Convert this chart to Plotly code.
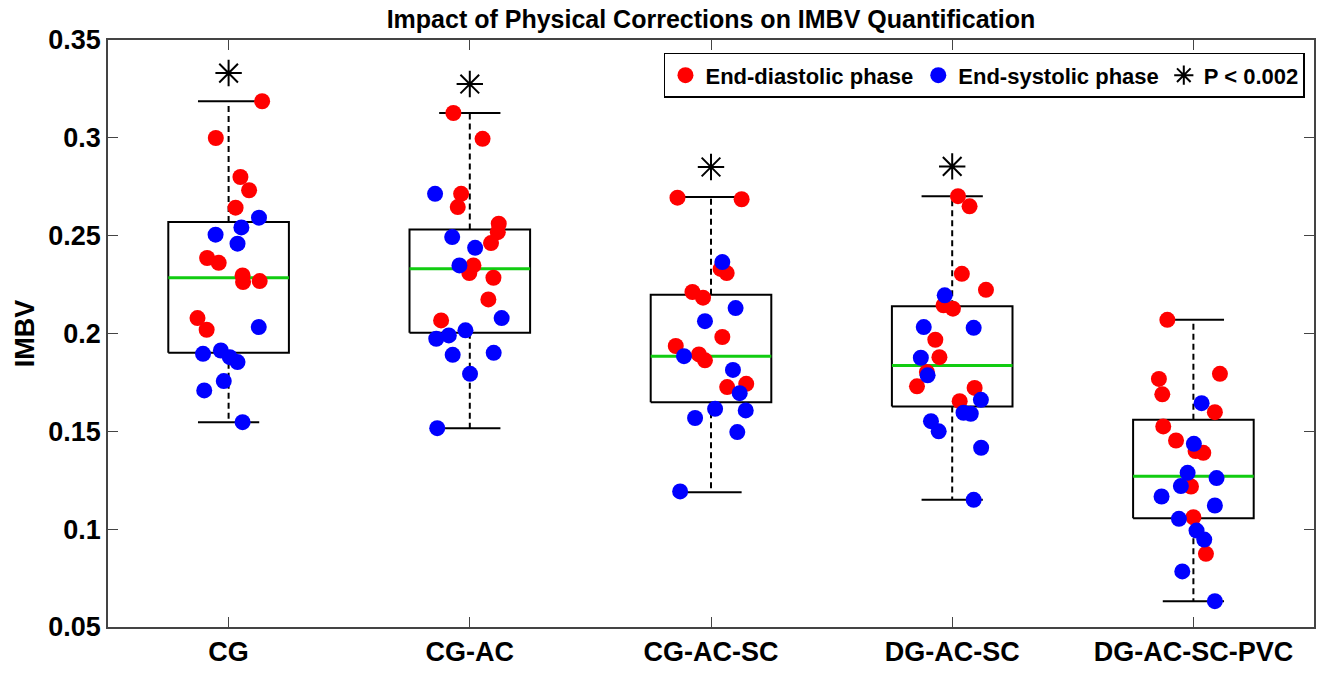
import plotly.graph_objects as go

categories = ["CG", "CG-AC", "CG-AC-SC", "DG-AC-SC", "DG-AC-SC-PVC"]

# End-diastolic (red) values per group and jitter offsets (category units)
ed_values = [
    [0.3187, 0.2999, 0.2800, 0.2732, 0.2643, 0.2386, 0.2361, 0.2297, 0.2263, 0.2268, 0.2079, 0.2019],
    [0.3127, 0.2995, 0.2714, 0.2646, 0.2561, 0.2518, 0.2462, 0.2348, 0.2309, 0.2285, 0.2174, 0.2067],
    [0.2694, 0.2686, 0.2330, 0.2309, 0.2212, 0.2183, 0.1982, 0.1936, 0.1893, 0.1863, 0.1726, 0.1743],
    [0.2702, 0.2650, 0.2305, 0.2223, 0.2144, 0.2127, 0.1968, 0.1879, 0.1803, 0.1730, 0.1722, 0.1654],
    [0.2070, 0.1768, 0.1794, 0.1689, 0.1598, 0.1525, 0.1453, 0.1390, 0.1399, 0.1218, 0.1061, 0.0874],
]
ed_jitter = [
    [0.139, -0.053, 0.049, 0.085, 0.029, -0.089, -0.041, 0.058, 0.060, 0.129, -0.129, -0.091],
    [-0.068, 0.053, -0.036, -0.050, 0.120, 0.116, 0.088, 0.015, -0.002, 0.098, 0.077, -0.119],
    [-0.139, 0.127, 0.040, 0.065, -0.077, -0.033, 0.047, -0.146, -0.050, -0.025, 0.067, 0.146],
    [0.024, 0.072, 0.040, 0.140, -0.036, 0.003, -0.070, -0.053, -0.105, -0.146, 0.093, 0.031],
    [-0.108, -0.143, 0.110, -0.129, 0.089, -0.125, -0.072, 0.041, 0.009, -0.010, 0.000, 0.052],
]

# End-systolic (blue) values per group and jitter offsets
es_values = [
    [0.2592, 0.2542, 0.2505, 0.2459, 0.2033, 0.1896, 0.1913, 0.1879, 0.1854, 0.1757, 0.1709, 0.1547],
    [0.2714, 0.2493, 0.2438, 0.2348, 0.2079, 0.2016, 0.1990, 0.1973, 0.1891, 0.1901, 0.1794, 0.1516],
    [0.2365, 0.2130, 0.2063, 0.1884, 0.1814, 0.1695, 0.1615, 0.1607, 0.1568, 0.1496, 0.1193],
    [0.2195, 0.2033, 0.2029, 0.1876, 0.1786, 0.1661, 0.1595, 0.1590, 0.1552, 0.1500, 0.1416, 0.1150],
    [0.1644, 0.1436, 0.1288, 0.1261, 0.1220, 0.1167, 0.1121, 0.1053, 0.0993, 0.0947, 0.0784, 0.0632],
]
es_jitter = [
    [0.126, 0.053, -0.054, 0.037, 0.125, -0.106, -0.032, 0.005, 0.037, -0.020, -0.101, 0.058],
    [-0.144, -0.073, 0.022, -0.043, 0.132, -0.018, -0.087, -0.139, -0.071, 0.099, 0.001, -0.135],
    [0.047, 0.102, -0.025, -0.112, 0.091, 0.119, 0.017, 0.144, -0.066, 0.109, -0.128],
    [-0.031, -0.118, 0.089, -0.130, -0.102, 0.119, 0.047, 0.077, -0.088, -0.056, 0.120, 0.089],
    [0.034, 0.002, -0.024, 0.096, -0.052, -0.132, 0.089, -0.060, 0.013, 0.045, -0.046, 0.089],
]

# Box statistics per group
q1 = [0.1901, 0.2004, 0.1649, 0.1627, 0.1056]
median = [0.2285, 0.2331, 0.1884, 0.1837, 0.1271]
q3 = [0.2570, 0.2532, 0.2198, 0.2139, 0.1559]
whisker_low = [0.1547, 0.1516, 0.1189, 0.1150, 0.0632]
whisker_high = [0.3187, 0.3127, 0.2697, 0.2702, 0.2070]

# Significance markers (group index, y value)
sig_groups = [0, 1, 2, 3]
sig_y = [0.3331, 0.3275, 0.2851, 0.2854]

BOX_HALF = 0.25
CAP_HALF = 0.127
pos = [i + 1 for i in range(len(categories))]

fig = go.Figure()

# Boxes
bx, by, mx, my, wx, wy, cx, cy = [], [], [], [], [], [], [], []
for i, c in enumerate(pos):
    bx += [c - BOX_HALF, c + BOX_HALF, c + BOX_HALF, c - BOX_HALF, c - BOX_HALF, None]
    by += [q1[i], q1[i], q3[i], q3[i], q1[i], None]
    mx += [c - BOX_HALF, c + BOX_HALF, None]
    my += [median[i], median[i], None]
    wx += [c, c, None, c, c, None]
    wy += [q3[i], whisker_high[i], None, q1[i], whisker_low[i], None]
    cx += [c - CAP_HALF, c + CAP_HALF, None, c - CAP_HALF, c + CAP_HALF, None]
    cy += [whisker_high[i], whisker_high[i], None, whisker_low[i], whisker_low[i], None]

fig.add_trace(go.Scatter(x=wx, y=wy, mode="lines", line=dict(color="black", width=2, dash="6px,4px"),
                         showlegend=False, hoverinfo="skip"))
fig.add_trace(go.Scatter(x=cx, y=cy, mode="lines", line=dict(color="black", width=2),
                         showlegend=False, hoverinfo="skip"))
fig.add_trace(go.Scatter(x=bx, y=by, mode="lines", line=dict(color="black", width=2),
                         showlegend=False, hoverinfo="skip"))
fig.add_trace(go.Scatter(x=mx, y=my, mode="lines", line=dict(color="#11cc11", width=3),
                         showlegend=False, hoverinfo="skip"))

# Points
rx, ry, ux, uy = [], [], [], []
for i, c in enumerate(pos):
    rx += [c + j for j in ed_jitter[i]]
    ry += ed_values[i]
    ux += [c + j for j in es_jitter[i]]
    uy += es_values[i]

fig.add_trace(go.Scatter(x=rx, y=ry, mode="markers", name="<b>End-diastolic phase</b>",
                         marker=dict(color="#ff0000", size=16, line=dict(width=0))))
fig.add_trace(go.Scatter(x=ux, y=uy, mode="markers", name="<b>End-systolic phase</b>",
                         marker=dict(color="#0000ff", size=16, line=dict(width=0))))
fig.add_trace(go.Scatter(x=[pos[g] for g in sig_groups], y=sig_y, mode="markers", name="<b>P < 0.002</b>",
                         marker=dict(symbol="asterisk-open", size=22, color="black",
                                     line=dict(color="black", width=2))))

fig.update_layout(
    width=1324, height=675,
    margin=dict(l=108, r=8, t=40, b=45),
    paper_bgcolor="white", plot_bgcolor="white",
    font=dict(family="Liberation Sans, Arial, sans-serif", color="black"),
    title=dict(text="<b>Impact of Physical Corrections on IMBV Quantification</b>",
               x=0.5, xref="paper", xanchor="center", y=0.972, yanchor="middle",
               font=dict(size=25, color="black")),
    legend=dict(orientation="h", x=0.9925, xanchor="right", y=0.978, yanchor="top",
                bgcolor="white", bordercolor="black", borderwidth=1.5,
                font=dict(size=22, color="black"), itemsizing="trace",
                itemclick=False),
    xaxis=dict(range=[0.5, 5.5], tickmode="array", tickvals=pos,
               ticktext=["<b>%s</b>" % c for c in categories],
               tickfont=dict(size=27), ticks="inside", ticklen=10, tickwidth=1.2,
               tickcolor="#444", showline=True, linecolor="#444", linewidth=1.5,
               mirror="ticks", showgrid=False, zeroline=False),
    yaxis=dict(range=[0.05, 0.35], tickmode="array",
               tickvals=[0.05, 0.1, 0.15, 0.2, 0.25, 0.3, 0.35],
               ticktext=["<b>0.05</b>", "<b>0.1</b>", "<b>0.15</b>", "<b>0.2</b>",
                         "<b>0.25</b>", "<b>0.3</b>", "<b>0.35</b>"],
               tickfont=dict(size=27), ticks="inside", ticklen=10, tickwidth=1.2,
               tickcolor="#444", showline=True, linecolor="#444", linewidth=1.5,
               mirror="ticks", showgrid=False, zeroline=False,
               title=dict(text="<b>IMBV</b>", font=dict(size=27), standoff=6)),
)

fig.write_html("out.html")
